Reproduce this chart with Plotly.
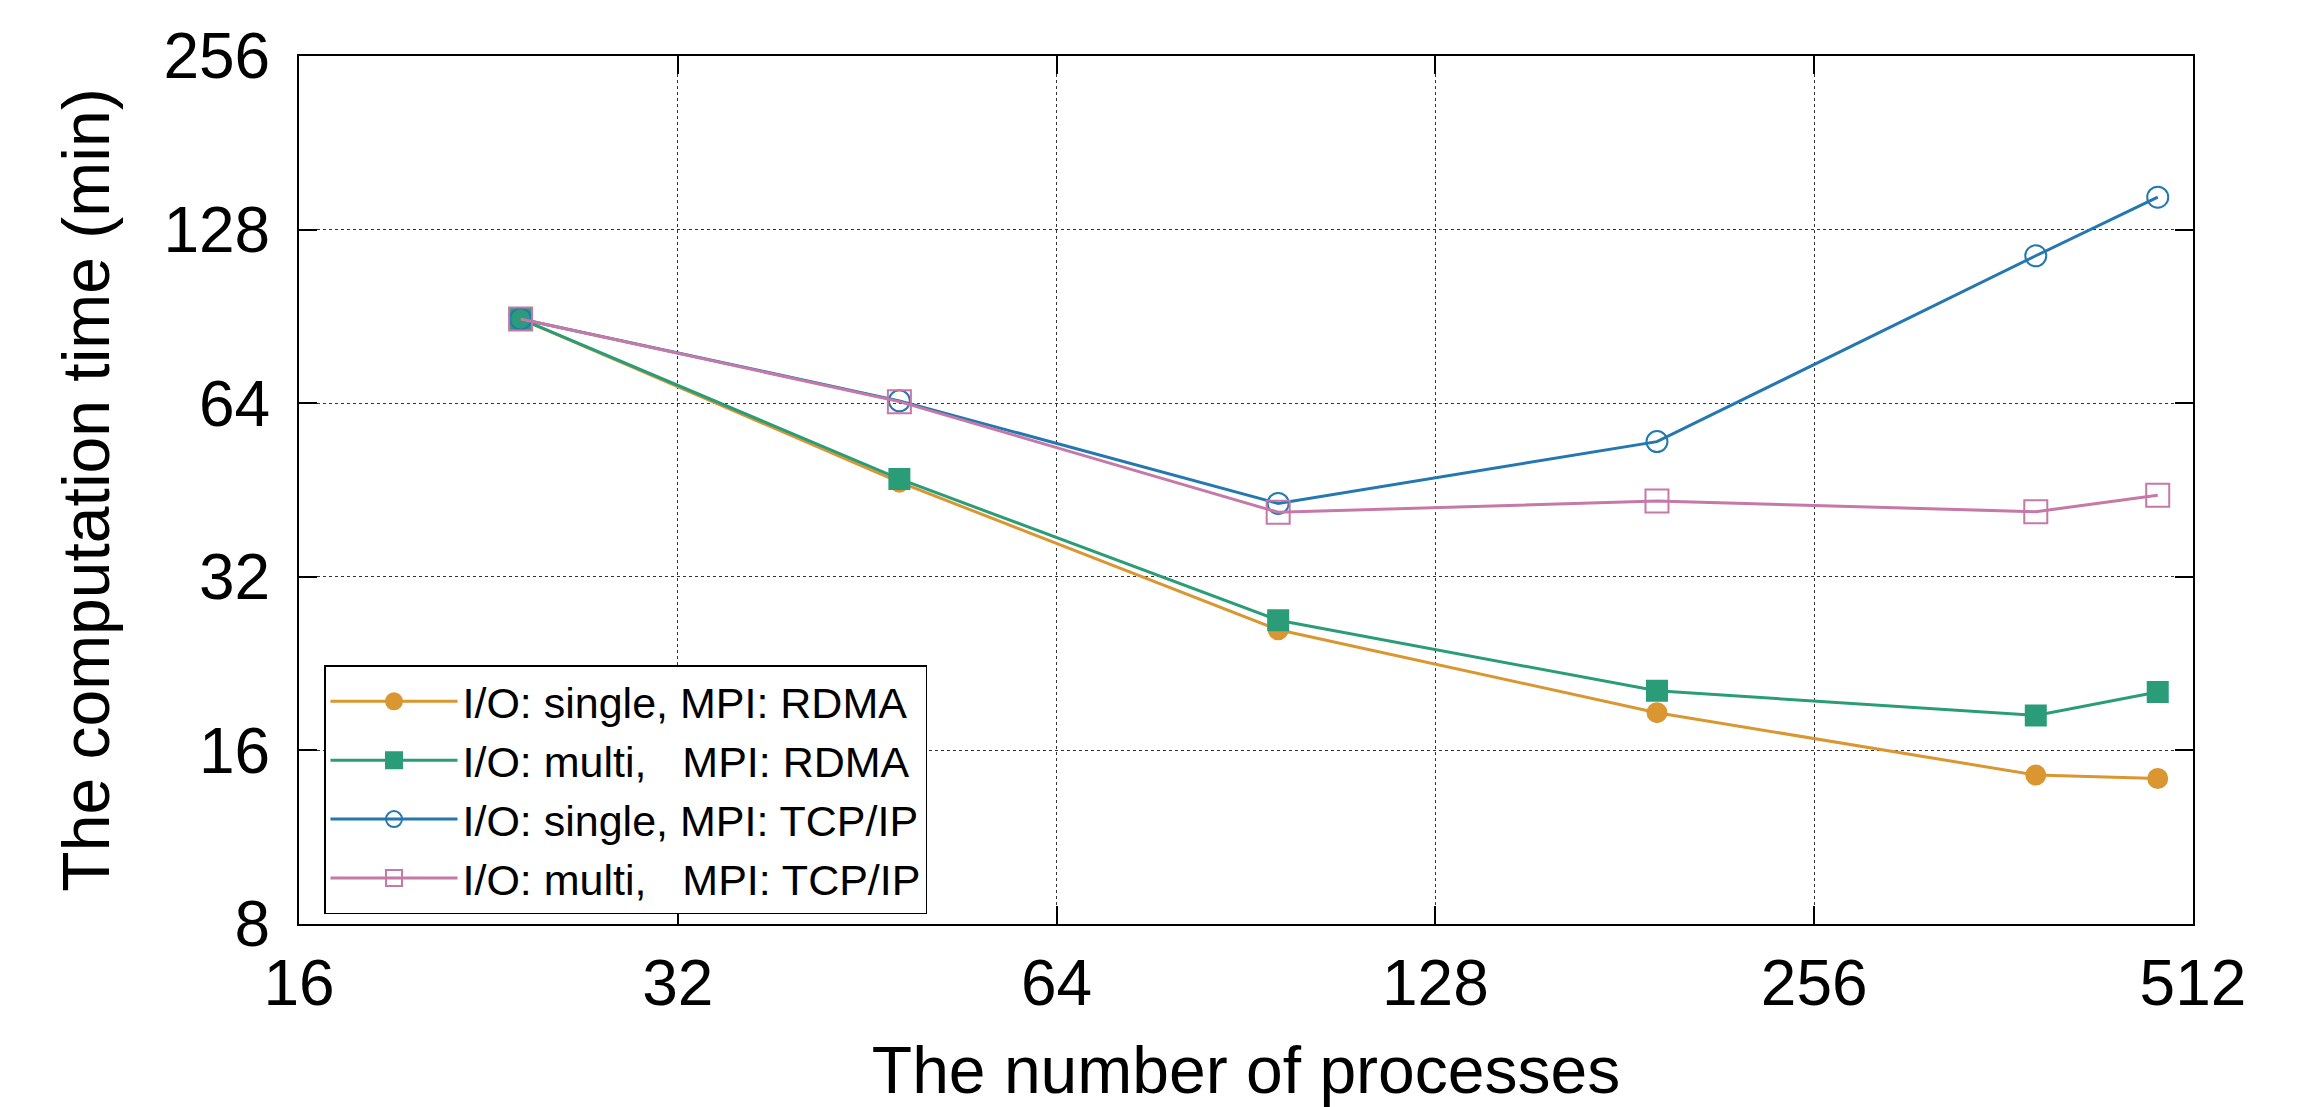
import plotly.graph_objects as go
import math

# ---- data ----
processes = [24, 48, 96, 192, 384, 480]
single_rdma = [89.6, 46.7, 25.9, 18.6, 14.5, 14.3]
multi_rdma = [89.6, 47.3, 26.9, 20.3, 18.4, 20.2]
single_tcp = [89.6, 64.6, 42.9, 54.9, 115.3, 145.7]
multi_tcp = [89.6, 64.4, 41.4, 43.3, 41.5, 44.3]

series_names = [
    "I/O: single, MPI: RDMA",
    "I/O: multi,\u00a0\u00a0\u00a0MPI: RDMA",
    "I/O: single, MPI: TCP/IP",
    "I/O: multi,\u00a0\u00a0\u00a0MPI: TCP/IP",
]
x_ticks = [16, 32, 64, 128, 256, 512]
y_ticks = [8, 16, 32, 64, 128, 256]

colors = ["#DA9630", "#2A9D78", "#2477B0", "#C678A6"]
symbols = ["circle", "square", "circle-open", "square-open"]
sizes = [19, 20, 21, 23]

FONT = "Liberation Sans, Arial, Helvetica, sans-serif"

fig = go.Figure()
for name, ys, c, s, sz in zip(series_names, [single_rdma, multi_rdma, single_tcp, multi_tcp], colors, symbols, sizes):
    fig.add_trace(go.Scatter(
        x=processes, y=ys, name=name, mode="lines+markers",
        line=dict(color=c, width=3),
        marker=dict(symbol=s, size=sz, color=c, line=dict(color=c, width=2)),
    ))

axis_common = dict(
    type="log",
    showline=True, linecolor="black", linewidth=2, mirror="ticks",
    ticks="inside", ticklen=18, tickwidth=2, tickcolor="black",
    showgrid=True, gridcolor="#333333", gridwidth=1, griddash="dot",
    zeroline=False, automargin=False,
    tickfont=dict(family=FONT, size=64, color="black"),
)

fig.update_xaxes(
    **axis_common,
    ticklabelstandoff=2,
    range=[math.log10(16), math.log10(512)],
    tickvals=x_ticks, ticktext=[str(v) for v in x_ticks],
    title=dict(text="The number of processes", font=dict(family=FONT, size=66, color="black"), standoff=36),
)
fig.update_yaxes(
    **axis_common,
    ticklabelstandoff=14,
    range=[math.log10(8), math.log10(256)],
    tickvals=y_ticks, ticktext=[str(v) for v in y_ticks],
    title=dict(text="The computation time (min)", font=dict(family=FONT, size=66, color="black"), standoff=32),
)

fig.update_layout(
    width=2311, height=1107,
    margin=dict(l=299, r=118, t=56, b=183),
    paper_bgcolor="white", plot_bgcolor="white",
    font=dict(family=FONT, color="black"),
    legend=dict(
        x=0.0132, y=0.298, xanchor="left", yanchor="top",
        bgcolor="white", bordercolor="black", borderwidth=1.5,
        font=dict(family=FONT, size=43, color="black"),
        itemwidth=127, tracegroupgap=0,
    ),
    showlegend=True,
)

fig.write_html("out.html")
